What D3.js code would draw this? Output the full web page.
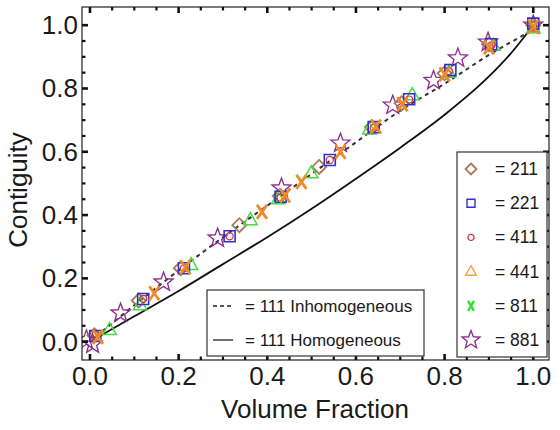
<!DOCTYPE html>
<html>
<head>
<meta charset="utf-8">
<script src="https://cdn.jsdelivr.net/npm/d3@7"></script>
<style>
  body { margin: 0; background: #fff; }
  text { font-family: "Liberation Sans", Arial, sans-serif; fill: #1a1a1a; }
</style>
</head>
<body>
<div id="chart"></div>
<script>
// measured points, [volume fraction, contiguity]
const s211 = [[0.01,0.02],[0.11,0.13],[0.205,0.232],[0.337,0.368],[0.428,0.46],[0.517,0.552],[0.636,0.678],[0.703,0.753],[0.8,0.848],[0.9,0.94],[1.0,1.0]];
const s221 = [[0.012,0.018],[0.12,0.135],[0.212,0.232],[0.315,0.333],[0.43,0.458],[0.541,0.574],[0.64,0.678],[0.72,0.766],[0.813,0.858],[0.905,0.94],[1.0,1.005]];
const s411 = [[0.012,0.02],[0.12,0.135],[0.212,0.232],[0.315,0.333],[0.43,0.455],[0.541,0.574],[0.64,0.675],[0.72,0.765],[0.81,0.855],[0.905,0.935],[1.0,1.0]];
const s441 = [[0.044,0.037],[0.113,0.115],[0.228,0.242],[0.362,0.384],[0.425,0.45],[0.499,0.532],[0.63,0.67],[0.727,0.779],[0.81,0.85],[0.91,0.935],[1.0,0.99]];
const s811 = [[0.018,0.015],[0.145,0.153],[0.215,0.235],[0.388,0.41],[0.44,0.462],[0.477,0.505],[0.565,0.6],[0.645,0.68],[0.705,0.75],[0.8,0.845],[0.9,0.93],[1.0,0.995]];
const s881 = [[-0.008,0.005],[0.006,-0.008],[0.069,0.09],[0.166,0.188],[0.288,0.327],[0.432,0.485],[0.565,0.627],[0.683,0.747],[0.775,0.825],[0.83,0.896],[0.898,0.946],[1.0,1.0]];

const inhomogeneous = [[0,0],[0.1,0.115],[0.2,0.225],[0.3,0.33],[0.4,0.43],[0.5,0.53],[0.6,0.63],[0.7,0.73],[0.8,0.815],[0.9,0.906],[1.0,0.985]];
const homogeneous = [[0,0],[0.1,0.08],[0.2,0.16],[0.3,0.245],[0.4,0.33],[0.5,0.42],[0.6,0.515],[0.7,0.613],[0.8,0.717],[0.9,0.838],[0.95,0.912],[1.0,1.0]];

const legendLabels = ["= 211", "= 221", "= 411", "= 441", "= 811", "= 881"];
const lineLabels = ["= 111 Inhomogeneous", "= 111 Homogeneous"];
const ticks = [0, 0.2, 0.4, 0.6, 0.8, 1.0];

let W = 560, H = 430;
let pLeft = 82, pRight = 549, pTop = 7, pBottom = 360;

let svg = d3.select("#chart").append("svg")
  .attr("width", W)
  .attr("height", H);

let x = d3.scaleLinear().domain([-0.018, 1.0355]).range([pLeft, pRight]);
let y = d3.scaleLinear().domain([-0.058, 1.0575]).range([pBottom, pTop]);

// marker shapes
function diamond(r) { return `M0,${-r}L${r},0L0,${r}L${-r},0Z`; }
function square(h) { return `M${-h},${-h}H${h}V${h}H${-h}Z`; }
function tri(r) { return `M0,${-r}L${r*0.9},${r*0.6}L${-r*0.9},${r*0.6}Z`; }
function cross(w, h) { return `M${-w},${-h}L${w},${h}M${w},${-h}L${-w},${h}`; }
function star(R, r0) {
  let p = [];
  for (let i = 0; i < 10; i++) {
    let a = -Math.PI / 2 + i * Math.PI / 5;
    let rr = i % 2 ? r0 : R;
    p.push([rr * Math.cos(a), rr * Math.sin(a)]);
  }
  return "M" + p.map(d => d.join(",")).join("L") + "Z";
}

svg.append("clipPath").attr("id", "clip")
  .append("rect").attr("x", pLeft).attr("y", pTop)
  .attr("width", pRight - pLeft).attr("height", pBottom - pTop);

let plot = svg.append("g").attr("clip-path", "url(#clip)");

let line = d3.line().x(d => x(d[0])).y(d => y(d[1])).curve(d3.curveMonotoneX);

plot.append("path").datum(homogeneous)
  .attr("d", line).attr("fill", "none")
  .attr("stroke", "#111").attr("stroke-width", 1.8);

plot.append("path").datum(inhomogeneous)
  .attr("d", line).attr("fill", "none")
  .attr("stroke", "#333").attr("stroke-width", 2)
  .attr("stroke-dasharray", "4,4");

let series = [
  { data: s881, path: star(10, 4.2), color: "#8a2a8a", w: 1.3 },
  { data: s211, path: diamond(7), color: "#a57a58", w: 1.8 },
  { data: s441, path: tri(7.5), color: "#44dd44", w: 1.5 },
  { data: s221, path: square(5.5), color: "#3030d0", w: 1.6 },
  { data: s411, path: d3.symbol(d3.symbolCircle, 40)(), color: "#d03040", w: 1.2 },
  { data: s811, path: cross(5, 7), color: "#f08a24", w: 2.8 }
];

series.forEach(s => {
  plot.selectAll(null)
    .data(s.data)
    .enter()
    .append("path")
    .attr("transform", d => "translate(" + x(d[0]) + "," + y(d[1]) + ")")
    .attr("d", s.path)
    .attr("fill", "none")
    .attr("stroke", s.color)
    .attr("stroke-width", s.w);
});

// frame
svg.append("rect")
  .attr("x", pLeft).attr("y", pTop)
  .attr("width", pRight - pLeft).attr("height", pBottom - pTop)
  .attr("fill", "none").attr("stroke", "#222").attr("stroke-width", 1.2);

// ticks on all four sides, pointing inward
let minor = d3.range(0, 1.001, 0.05).filter(v => Math.abs(v * 5 - Math.round(v * 5)) > 1e-6);
let tg = svg.append("g").attr("stroke", "#111");
function addTicks(vals, len, sw) {
  vals.forEach(v => {
    tg.append("line").attr("x1", x(v)).attr("x2", x(v)).attr("y1", pBottom).attr("y2", pBottom - len).attr("stroke-width", sw);
    tg.append("line").attr("x1", x(v)).attr("x2", x(v)).attr("y1", pTop).attr("y2", pTop + len).attr("stroke-width", sw);
    tg.append("line").attr("y1", y(v)).attr("y2", y(v)).attr("x1", pLeft).attr("x2", pLeft + len).attr("stroke-width", sw);
    tg.append("line").attr("y1", y(v)).attr("y2", y(v)).attr("x1", pRight).attr("x2", pRight - len).attr("stroke-width", sw);
  });
}
addTicks(ticks, 6, 2.6);
addTicks(minor, 3.5, 2.2);

// tick labels
svg.selectAll(".xl").data(ticks).enter().append("text")
  .attr("x", d => x(d)).attr("y", 385)
  .attr("text-anchor", "middle")
  .attr("font-size", 26)
  .text(d => d.toFixed(1));

svg.selectAll(".yl").data(ticks).enter().append("text")
  .attr("x", 78).attr("y", d => y(d) + 9)
  .attr("text-anchor", "end")
  .attr("font-size", 26)
  .text(d => d.toFixed(1));

// axis titles
svg.append("text")
  .attr("transform", "translate(27,190) rotate(-90)")
  .attr("text-anchor", "middle")
  .attr("font-size", 26)
  .text("Contiguity");

svg.append("text")
  .attr("x", 315).attr("y", 418)
  .attr("text-anchor", "middle")
  .attr("font-size", 26)
  .text("Volume Fraction");

// marker legend
let lg = svg.append("g");
lg.append("rect")
  .attr("x", 457).attr("y", 152).attr("width", 90).attr("height", 205)
  .attr("fill", "#fff").attr("stroke", "#333").attr("stroke-width", 1.2);

let legendMarks = [
  { path: diamond(5.5), color: "#a57a58", w: 1.8 },
  { path: square(4), color: "#3030d0", w: 1.4 },
  { path: d3.symbol(d3.symbolCircle, 30)(), color: "#d03040", w: 1.2 },
  { path: tri(6), color: "#f0a050", w: 1.4 },
  { path: "M-3,-5L3,5M3,-5L-3,5", color: "#33dd33", w: 2.4 },
  { path: star(9.5, 4), color: "#8a2a8a", w: 1.3 }
];

legendLabels.forEach((t, i) => {
  let cy = 169 + i * 34.2;
  lg.append("path")
    .attr("transform", "translate(471," + cy + ")")
    .attr("d", legendMarks[i].path)
    .attr("fill", "none")
    .attr("stroke", legendMarks[i].color)
    .attr("stroke-width", legendMarks[i].w);
  lg.append("text")
    .attr("x", 495).attr("y", cy + 6)
    .attr("font-size", 17.5)
    .text(t);
});

// line legend
let lg2 = svg.append("g");
lg2.append("rect")
  .attr("x", 207).attr("y", 290).attr("width", 217).attr("height", 66)
  .attr("fill", "#fff").attr("stroke", "#333").attr("stroke-width", 1.2);

lineLabels.forEach((t, i) => {
  let cy = 306 + i * 34;
  lg2.append("line")
    .attr("x1", 213).attr("x2", 233).attr("y1", cy).attr("y2", cy)
    .attr("stroke", "#222").attr("stroke-width", 1.3)
    .attr("stroke-dasharray", i == 0 ? "4,3" : null);
  lg2.append("text")
    .attr("x", 245).attr("y", cy + 6)
    .attr("font-size", 17)
    .text(t);
});
</script>
</body>
</html>
